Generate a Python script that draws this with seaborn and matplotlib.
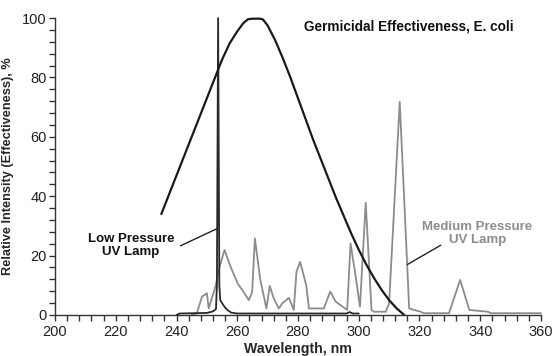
import numpy as np
import pandas as pd
import matplotlib
matplotlib.use("Agg")
import matplotlib.pyplot as plt
from matplotlib.ticker import MultipleLocator
import seaborn as sns

# Germicidal effectiveness curve (E. coli)
germ_wl = [235, 237.5, 240, 242.5, 245, 247.5, 250, 252.5, 255, 257.5, 260, 262,
           263.5, 265, 267.5, 268.5, 270, 272.5, 275, 277.5, 280, 282.5, 285, 287.5,
           290, 292.5, 295, 297.5, 300, 302.5, 305, 307.5, 310, 312.5, 315]
germ_val = [34, 40.5, 47, 53.5, 60, 66.5, 73, 79.5, 86, 91.5, 95.5, 98.3,
            99.6, 99.8, 99.8, 99.5, 97.5, 92.5, 86.5, 80, 73, 66, 59, 52.5,
            46, 39.5, 33.5, 27.5, 22, 17, 12.5, 8.5, 5, 2.2, 0]

# Low pressure lamp spectrum
low_wl = [240, 241, 250, 252, 253, 253.3, 253.7, 254.1, 254.4, 255, 256, 257, 258,
          260, 270, 280, 290, 296, 297, 298, 300]
low_val = [0, 0.5, 0.7, 1.2, 2, 10, 100, 10, 5, 4, 2.5, 1.5, 0.8,
           0.5, 0.5, 0.5, 0.5, 0.5, 1, 0.5, 0.5]

# Medium pressure lamp spectrum
med_wl = [245, 246.7, 248.4, 250, 250.6, 252.8, 254.2, 255.8, 257.9, 260.2, 262,
          263.8, 264.9, 265.8, 267.6, 269.6, 270.7, 272, 273.7, 274.8, 277, 278.6,
          279.5, 280.7, 282.7, 283.6, 288.5, 290.6, 292.4, 296.2, 297.3, 299,
          300.4, 302.3, 304.2, 305, 308.9, 310, 313.5, 316.6, 318.2, 320.4, 321.4,
          329.7, 333.4, 336.4, 342.5, 343.5, 360]
med_val = [0, 0.6, 6.2, 7.3, 2.2, 9.5, 16.3, 21.9, 16, 10.5, 7.9,
           5, 7.6, 25.8, 11.8, 2.2, 9.8, 5.6, 2.2, 3.9, 5.8, 1.7,
           14.6, 17.9, 10.1, 2.2, 2.2, 7.9, 4.5, 1.7, 24.1, 12.9,
           2.8, 37.8, 1.7, 1.1, 1.1, 3.9, 71.8, 2.2, 1.7, 1.1, 0.6,
           0.6, 11.8, 1.7, 1.1, 0.6, 0.6]

xticks = [200, 220, 240, 260, 280, 300, 320, 340, 360]
yticks = [0, 20, 40, 60, 80, 100]

sns.set_style("ticks")
plt.rcParams['font.family'] = ['Liberation Sans', 'DejaVu Sans']

fig = plt.figure(figsize=(5.54, 3.56), dpi=100)
ax = fig.add_axes([0.0993, 0.1152, 0.8772, 0.834])

med = pd.DataFrame({'wl': med_wl, 'val': med_val})
low = pd.DataFrame({'wl': low_wl, 'val': low_val})
germ = pd.DataFrame({'wl': germ_wl, 'val': germ_val})

sns.lineplot(data=med, x='wl', y='val', ax=ax, color='#8c8c8c', lw=1.3,
             estimator=None, sort=False, clip_on=False)
sns.lineplot(data=low, x='wl', y='val', ax=ax, color='#2a2a2a', lw=1.3,
             estimator=None, sort=False, clip_on=False)
sns.lineplot(data=germ, x='wl', y='val', ax=ax, color='#1a1a1a', lw=1.6,
             estimator=None, sort=False, clip_on=False)

ax.set_xlim(200, 360)
ax.set_ylim(0, 100)
ax.set_xticks(xticks)
ax.set_yticks(yticks)
ax.xaxis.set_minor_locator(MultipleLocator(4))
ax.yaxis.set_minor_locator(MultipleLocator(4))
ax.tick_params(axis='both', which='both', direction='out', length=4,
               width=1, color='#333333', labelsize=10.5, labelcolor='#222222')
ax.tick_params(axis='x', pad=3.5)
ax.tick_params(axis='y', pad=2)
sns.despine(ax=ax)
for s in ['left', 'bottom']:
    ax.spines[s].set_color('#333333')
    ax.spines[s].set_linewidth(1)

ax.set_xlabel('Wavelength, nm', fontsize=10.2, fontweight='bold', labelpad=2)
ax.set_ylabel('Relative Intensity (Effectiveness), %', fontsize=9.2,
              fontweight='bold', labelpad=6)

ax.text(316.5, 97, 'Germicidal Effectiveness, E. coli', fontsize=9.8,
        fontweight='bold', ha='center', va='center', color='#111111')
ax.text(225, 23.5, 'Low Pressure\nUV Lamp', fontsize=9.5, fontweight='bold',
        ha='center', va='center', color='#111111', linespacing=1.1)
ax.text(339, 27.5, 'Medium Pressure\nUV Lamp', fontsize=9.5, fontweight='bold',
        ha='center', va='center', color='#8c8c8c', linespacing=1.1)

ax.plot([241.3, 253.2], [23.3, 29], color='#222222', lw=1)
ax.plot([327, 316], [23.5, 17], color='#222222', lw=1)

fig.savefig('out.png', dpi=100)
